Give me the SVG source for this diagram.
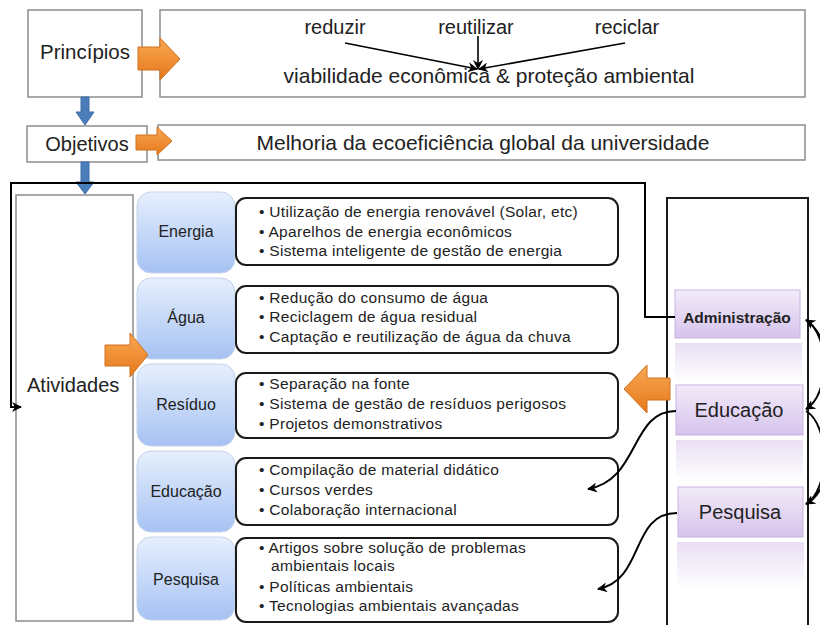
<svg xmlns="http://www.w3.org/2000/svg" width="820" height="625" viewBox="0 0 820 625">
<defs>
<style>
.t{font-family:"Liberation Sans",Arial,sans-serif;fill:#222}
.box{fill:#fff;stroke:#8c8c8c;stroke-width:1.5}
.list{fill:#fff;stroke:#1a1a1a;stroke-width:2}
.cat{fill:url(#gBlue);stroke:#c5d3ea;stroke-width:1}
.conn{fill:none;stroke:#000;stroke-width:2}
.thin{fill:none;stroke:#000;stroke-width:1.6}
.orange{fill:url(#gOrange);stroke:#d0701c;stroke-width:1}
.blue{fill:#4a7ebb;stroke:#3d6ca6;stroke-width:1}
.purple{fill:url(#gPurple);stroke:#c9b3e3;stroke-width:1}
.fade{fill:url(#gFade)}
.li{font-size:15.5px;letter-spacing:0.3px}
.cl{font-size:16px;text-anchor:middle}
</style>
<linearGradient id="gBlue" x1="0" y1="0" x2="0" y2="1"><stop offset="0" stop-color="#e6effd"/><stop offset="1" stop-color="#a6c2f3"/></linearGradient>
<linearGradient id="gPurple" x1="0" y1="0" x2="0" y2="1"><stop offset="0" stop-color="#f2ebf9"/><stop offset="1" stop-color="#d6c3ec"/></linearGradient>
<linearGradient id="gFade" x1="0" y1="0" x2="0" y2="1"><stop offset="0" stop-color="#e9dff4"/><stop offset="1" stop-color="#ffffff"/></linearGradient>
<linearGradient id="gOrange" x1="0" y1="0" x2="0" y2="1"><stop offset="0" stop-color="#f9a851"/><stop offset="1" stop-color="#e5781c"/></linearGradient>
<marker id="ah" viewBox="0 0 10 10" refX="9" refY="5" markerWidth="10" markerHeight="10" markerUnits="userSpaceOnUse" orient="auto-start-reverse"><path d="M0,0 L10,5 L0,10 L3,5 z" fill="#000"/></marker>
</defs>
<rect width="820" height="625" fill="#fff"/>

<g id="principios">
<rect class="box" x="28" y="10" width="114" height="87"/>
<text class="t" x="85" y="59" font-size="20.5" text-anchor="middle">Princípios</text>
</g>
<g id="principios-content">
<rect class="box" x="160" y="10" width="645" height="87"/>
<text class="t" x="335" y="34" font-size="20" text-anchor="middle">reduzir</text>
<text class="t" x="476" y="34" font-size="20" text-anchor="middle">reutilizar</text>
<text class="t" x="627" y="34" font-size="20" text-anchor="middle">reciclar</text>
<text class="t" x="489" y="83" font-size="21" text-anchor="middle">viabilidade econômica &amp; proteção ambiental</text>
</g>
<g id="objetivos">
<rect class="box" x="27" y="126" width="120" height="36"/>
<text class="t" x="87" y="151" font-size="20" text-anchor="middle">Objetivos</text>
</g>
<g id="objetivos-content">
<rect class="box" x="158" y="125" width="647" height="35"/>
<text class="t" x="483" y="150" font-size="21" text-anchor="middle">Melhoria da ecoeficiência global da universidade</text>
</g>
<g id="atividades">
<rect class="box" x="16" y="195" width="117" height="426"/>
<text class="t" x="27" y="392" font-size="20">Atividades</text>
</g>

<g id="cat-energia"><rect class="cat" x="137" y="192" width="98" height="81" rx="14"/><text class="t cl" x="186" y="237">Energia</text></g>
<g id="cat-agua"><rect class="cat" x="137" y="278" width="98" height="81" rx="14"/><text class="t cl" x="186" y="323">Água</text></g>
<g id="cat-residuo"><rect class="cat" x="137" y="364" width="98" height="82" rx="14"/><text class="t cl" x="186" y="410">Resíduo</text></g>
<g id="cat-educacao"><rect class="cat" x="137" y="451" width="98" height="81" rx="14"/><text class="t cl" x="186" y="497">Educação</text></g>
<g id="cat-pesquisa"><rect class="cat" x="137" y="537" width="98" height="83" rx="14"/><text class="t cl" x="186" y="585">Pesquisa</text></g>

<g id="list-energia"><rect class="list" x="236" y="198" width="382" height="67" rx="10"/>
<text class="t li" x="259" y="217">• Utilização de energia renovável (Solar, etc)</text>
<text class="t li" x="259" y="237">• Aparelhos de energia econômicos</text>
<text class="t li" x="259" y="256">• Sistema  inteligente de gestão de energia</text></g>
<g id="list-agua"><rect class="list" x="236" y="286" width="382" height="67" rx="10"/>
<text class="t li" x="259" y="303">• Redução do consumo de água</text>
<text class="t li" x="259" y="322">• Reciclagem de água residual</text>
<text class="t li" x="259" y="342">• Captação e reutilização de água da chuva</text></g>
<g id="list-residuo"><rect class="list" x="236" y="373" width="382" height="65" rx="10"/>
<text class="t li" x="259" y="389">• Separação na fonte</text>
<text class="t li" x="259" y="409">• Sistema de gestão de resíduos perigosos</text>
<text class="t li" x="259" y="429">• Projetos demonstrativos</text></g>
<g id="list-educacao"><rect class="list" x="236" y="458" width="382" height="67" rx="10"/>
<text class="t li" x="259" y="475">• Compilação de material didático</text>
<text class="t li" x="259" y="495">• Cursos verdes</text>
<text class="t li" x="259" y="515">• Colaboração internacional</text></g>
<g id="list-pesquisa"><rect class="list" x="236" y="538" width="382" height="84" rx="10"/>
<text class="t li" x="259" y="553">• Artigos sobre solução de problemas</text>
<text class="t li" x="271" y="571">ambientais locais</text>
<text class="t li" x="259" y="592">• Políticas ambientais</text>
<text class="t li" x="259" y="611">• Tecnologias ambientais avançadas</text></g>

<g id="atores">
<rect x="667" y="198" width="141" height="440" fill="#fff" stroke="#1a1a1a" stroke-width="2"/>
<rect class="fade" x="675" y="343" width="127" height="40"/>
<rect class="fade" x="676" y="440" width="127" height="42"/>
<rect class="fade" x="677" y="542" width="127" height="48"/>
</g>
<g id="administracao"><rect class="purple" x="675" y="290" width="125" height="48"/><text class="t" x="737" y="323" font-size="15.5" font-weight="bold" text-anchor="middle">Administração</text></g>
<g id="educacao"><rect class="purple" x="676" y="385" width="127" height="50"/><text class="t" x="739" y="417" font-size="20" text-anchor="middle">Educação</text></g>
<g id="pesquisa"><rect class="purple" x="678" y="487" width="125" height="50"/><text class="t" x="740" y="519" font-size="20" text-anchor="middle">Pesquisa</text></g>

<g id="connectors">
<polygon class="orange" points="138,47 160,47 160,38 180,59 160,80 160,70 138,70"/>
<polygon class="orange" points="136,135 157,135 157,127 172,141 157,155 157,150 136,150"/>
<polygon class="orange" points="105,345 130,345 130,333 148,355 130,377 130,366 105,366"/>
<polygon class="orange" points="670,378 647,378 647,365 624,389 647,413 647,400 670,400"/>
<polygon class="blue" points="81,97 89,97 89,112 94,112 85,125 76,112 81,112"/>
<polygon class="blue" points="81,162 89,162 89,182 94,182 85,194 76,182 81,182"/>
<line class="thin" x1="345" y1="43" x2="477" y2="69" marker-end="url(#ah)"/>
<line class="thin" x1="478" y1="36" x2="478" y2="69" marker-end="url(#ah)"/>
<line class="thin" x1="625" y1="43" x2="479" y2="69" marker-end="url(#ah)"/>
<polyline class="conn" points="675,317 645,317 645,183 11,183 11,407 21,407" marker-end="url(#ah)"/>
<path class="conn" d="M676,411 C630,411 640,480 588,489" marker-end="url(#ah)"/>
<path class="conn" d="M677,513 C630,513 645,580 598,589" marker-end="url(#ah)"/>
<path class="conn" d="M806,320 C830,335 830,395 806,409" marker-start="url(#ah)" marker-end="url(#ah)"/>
<path class="conn" d="M806,411 C830,425 830,490 806,504" marker-end="url(#ah)"/>
<path class="conn" d="M806,320 C845,345 845,485 806,504"/>
</g>
</svg>
